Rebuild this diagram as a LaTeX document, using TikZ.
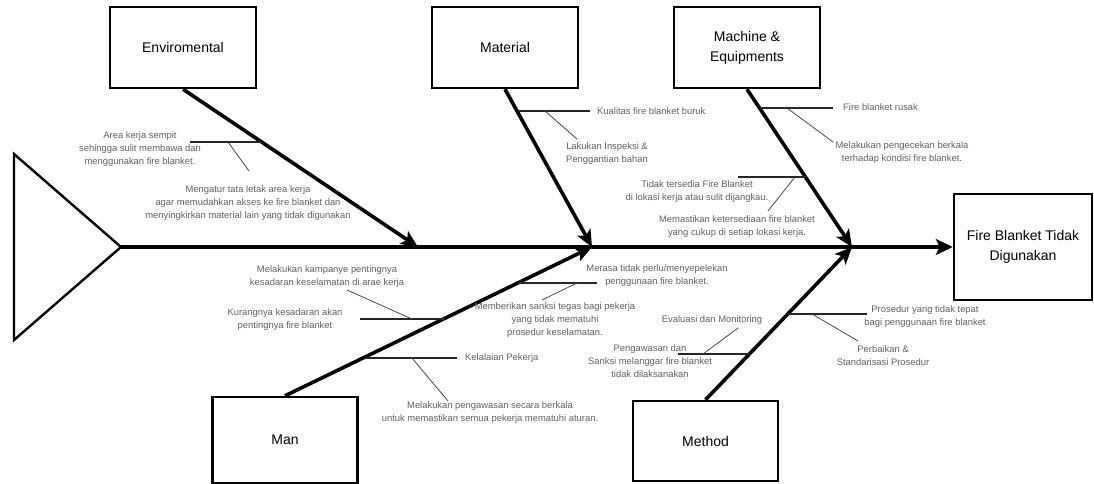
\documentclass[tikz,border=0pt]{standalone}
\usepackage{fontspec}
\setmainfont{Liberation Sans}
\usetikzlibrary{arrows.meta}
\definecolor{lblgray}{RGB}{95,95,95}
\definecolor{thingray}{RGB}{70,70,70}
\tikzset{
  catbox/.style={draw, line width=2.4pt, inner sep=0pt, align=center,
    font=\fontsize{14}{20}\selectfont},
  bone/.style={line width=3.6pt, -{Stealth[length=17pt,width=15pt,inset=4pt]}},
  spine/.style={line width=4.5pt, -{Stealth[length=17pt,width=16pt,inset=4pt]}},
  tick/.style={line width=2.2pt, black!85},
  thin/.style={line width=0.8pt, thingray},
  lbl/.style={text=lblgray, align=center, inner sep=0pt,
    font=\fontsize{9.4}{13}\selectfont},
}
\begin{document}
\begin{tikzpicture}[x=1pt,y=-1pt]
\useasboundingbox (0,0) rectangle (1094,484);

% tail
\draw[line width=2.4pt, line join=miter] (14,154) -- (121,247) -- (14,340) -- cycle;
\coordinate (tail) at (121,247);

% boxes
\node[catbox, minimum width=146pt, minimum height=81pt] (env) at (183,47.5) {Enviromental};
\node[catbox, minimum width=146pt, minimum height=81pt] (mat) at (505,47.5) {Material};
\node[catbox, minimum width=146pt, minimum height=81pt] (mach) at (747,47.5) {Machine \&\\Equipments};
\node[catbox, minimum width=145pt, minimum height=86pt] (man) at (285,440) {Man};
\node[catbox, minimum width=145pt, minimum height=80pt] (meth) at (705.5,441) {Method};
\node[catbox, minimum width=138pt, minimum height=106pt] (head) at (1023,247) {Fire Blanket Tidak\\Digunakan};

% junctions on spine
\coordinate (jE) at (418,247);
\coordinate (jM) at (592,247);
\coordinate (jQ) at (852,247);

% spine and bones
\draw[spine] (tail) -- (head.west);
\draw[bone] (env.south) -- (jE);
\draw[bone] (mat.south) -- (jM);
\draw[bone] (mach.south) -- (jQ);
\draw[bone] (man.north) -- (jM);
\draw[bone] (meth.north) -- (jQ);

% ---------- Enviromental ----------
\coordinate (e1a) at (262,142); \coordinate (e1b) at (190,142);
\draw[tick] (e1a) -- (e1b);
\coordinate (e1s) at (228,142); \coordinate (e1e) at (249,171);
\draw[thin] (e1s) -- (e1e);
\node[lbl] (tE1) at (140,149) {Area kerja sempit\\sehingga sulit membawa dan\\menggunakan fire blanket.};
\node[lbl] (sE1) at (248,203) {Mengatur tata letak area kerja\\agar memudahkan akses ke fire blanket dan\\menyingkirkan material lain yang tidak digunakan};

% ---------- Material ----------
\coordinate (m1a) at (518,111); \coordinate (m1b) at (590,111);
\draw[tick] (m1a) -- (m1b);
\coordinate (m1s) at (545,111); \coordinate (m1e) at (577,139);
\draw[thin] (m1s) -- (m1e);
\node[lbl, anchor=west] (tM1) at (597,111) {Kualitas fire blanket buruk};
\node[lbl] (sM1) at (607,153.5) {Lakukan Inspeksi \&\\Penggantian bahan};

% ---------- Machine & Equipments ----------
\coordinate (q1a) at (760,108); \coordinate (q1b) at (833,108);
\draw[tick] (q1a) -- (q1b);
\coordinate (q1s) at (787,108); \coordinate (q1e) at (833,142);
\draw[thin] (q1s) -- (q1e);
\node[lbl, anchor=west] (tQ1) at (843,107) {Fire blanket rusak};
\node[lbl] (sQ1) at (902,152.5) {Melakukan pengecekan berkala\\terhadap kondisi fire blanket.};

\coordinate (q2a) at (806,177); \coordinate (q2b) at (738,177);
\draw[tick] (q2a) -- (q2b);
\coordinate (q2s) at (795,177); \coordinate (q2e) at (768,211);
\draw[thin] (q2s) -- (q2e);
\node[lbl] (tQ2) at (697,191.5) {Tidak tersedia Fire Blanket\\di lokasi kerja atau sulit dijangkau.};
\node[lbl] (sQ2) at (737,226.5) {Memastikan ketersediaan fire blanket\\yang cukup di setiap lokasi kerja.};

% ---------- Man ----------
\coordinate (a1a) at (445,319); \coordinate (a1b) at (360,319);
\draw[tick] (a1a) -- (a1b);
\coordinate (a1s) at (412,319); \coordinate (a1e) at (347,290);
\draw[thin] (a1s) -- (a1e);
\node[lbl] (sA1) at (327,276.5) {Melakukan kampanye pentingnya\\kesadaran keselamatan di arae kerja};
\node[lbl] (tA1) at (285,320) {Kurangnya kesadaran akan\\pentingnya fire blanket};

\coordinate (a2a) at (365,358); \coordinate (a2b) at (457,358);
\draw[tick] (a2a) -- (a2b);
\coordinate (a2s) at (412,358); \coordinate (a2e) at (448,401);
\draw[thin] (a2s) -- (a2e);
\node[lbl, anchor=west] (tA2) at (465,358.5) {Kelalaian Pekerja};
\node[lbl] (sA2) at (490,413) {Melakukan pengawasan secara berkala\\untuk memastikan semua pekerja mematuhi aturan.};

\coordinate (a3a) at (518,283); \coordinate (a3b) at (597,283);
\draw[tick] (a3a) -- (a3b);
\coordinate (a3s) at (577,283); \coordinate (a3e) at (542,300);
\draw[thin] (a3s) -- (a3e);
\node[lbl] (tA3) at (657,276) {Merasa tidak perlu/menyepelekan\\penggunaan fire blanket.};
\node[lbl] (sA3) at (555,320) {Memberikan sanksi tegas bagi pekerja\\yang tidak mematuhi\\prosedur keselamatan.};

% ---------- Method ----------
\coordinate (t1a) at (750,354); \coordinate (t1b) at (678,354);
\draw[tick] (t1a) -- (t1b);
\coordinate (t1s) at (703,354); \coordinate (t1e) at (738,328);
\draw[thin] (t1s) -- (t1e);
\node[lbl] (tT1) at (650,361.5) {Pengawasan dan\\Sanksi melanggar fire blanket\\tidak dilaksanakan};
\node[lbl] (sT1) at (712,320) {Evaluasi dan Monitoring};

\coordinate (t2a) at (788,314); \coordinate (t2b) at (867,314);
\draw[tick] (t2a) -- (t2b);
\coordinate (t2s) at (812,314); \coordinate (t2e) at (858,341);
\draw[thin] (t2s) -- (t2e);
\node[lbl] (tT2) at (925,316.5) {Prosedur yang tidak tepat\\bagi penggunaan fire blanket};
\node[lbl] (sT2) at (883,356) {Perbaikan \&\\Standarisasi Prosedur};
\end{tikzpicture}
\end{document}
